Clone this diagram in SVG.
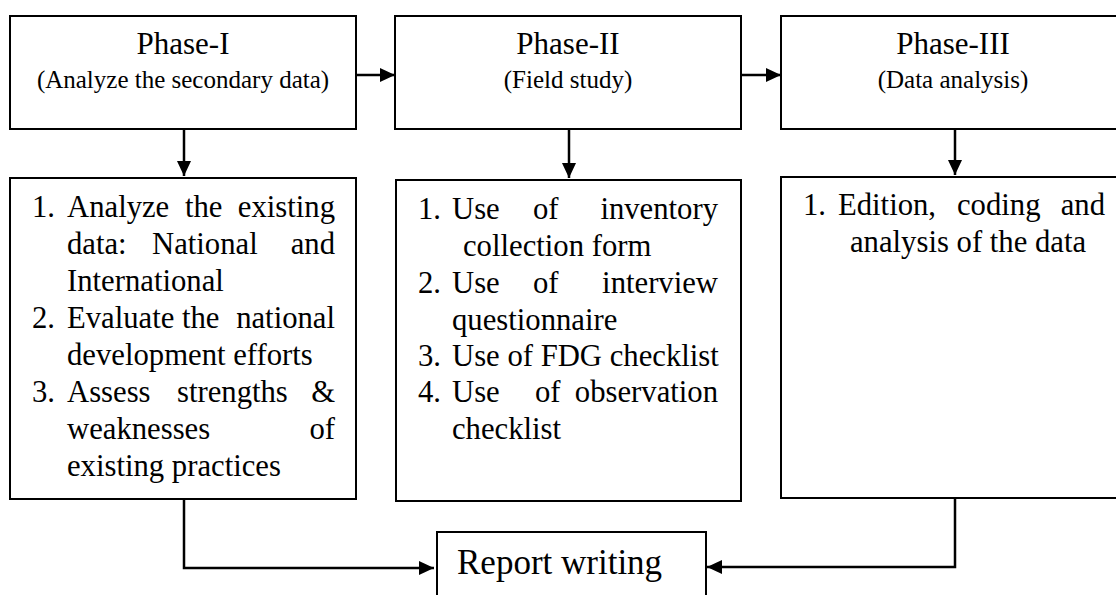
<svg xmlns="http://www.w3.org/2000/svg" width="1116" height="595" viewBox="0 0 1116 595">
  <defs>
    <marker id="arrow" viewBox="0 0 15 14" refX="15" refY="7" markerWidth="15" markerHeight="14" markerUnits="userSpaceOnUse" orient="auto">
      <path d="M0,0 L15,7 L0,14 z" fill="#000"/>
    </marker>
    <style>
      .box { fill: #fff; stroke: #000; stroke-width: 2; }
      .conn { fill: none; stroke: #000; stroke-width: 2.5; marker-end: url(#arrow); }
      text { font-family: "Liberation Serif", "Times New Roman", serif; fill: #000; }
      .title { font-size: 31px; text-anchor: middle; }
      .sub { font-size: 25px; text-anchor: middle; }
      .item { font-size: 30.7px; }
      .end { text-anchor: end; }
      .report { font-size: 35px; }
    </style>
  </defs>

  <rect width="1116" height="595" fill="#fff"/>

  <!-- connectors -->
  <g id="connectors">
    <line class="conn" x1="356" y1="75" x2="395" y2="75"/>
    <line class="conn" x1="741" y1="75" x2="781" y2="75"/>
    <line class="conn" x1="184" y1="129" x2="184" y2="176"/>
    <line class="conn" x1="569" y1="129" x2="569" y2="178"/>
    <line class="conn" x1="955" y1="129" x2="955" y2="175"/>
    <polyline class="conn" points="184,499 184,568 434,568"/>
    <polyline class="conn" points="955,498 955,567 707,567"/>
  </g>

  <!-- Phase I header -->
  <g id="phase1">
    <rect class="box" x="10" y="16" width="346" height="113"/>
    <text class="title" x="183" y="54">Phase-I</text>
    <text class="sub" x="183" y="88">(Analyze the secondary data)</text>
  </g>

  <!-- Phase II header -->
  <g id="phase2">
    <rect class="box" x="395" y="16" width="346" height="113"/>
    <text class="title" x="568" y="54">Phase-II</text>
    <text class="sub" x="568" y="88">(Field study)</text>
  </g>

  <!-- Phase III header -->
  <g id="phase3">
    <rect class="box" x="781" y="16" width="346" height="113"/>
    <text class="title" x="953" y="54">Phase-III</text>
    <text class="sub" x="953" y="88">(Data analysis)</text>
  </g>

  <!-- Phase I tasks -->
  <g id="tasks1" class="item">
    <rect class="box" x="10" y="178" width="346" height="321"/>
    <text class="item" x="32" y="217">1.</text>
    <text class="item" y="217"><tspan x="67">Analyze</tspan><tspan x="185">the</tspan></text>
    <text class="item end" x="335" y="217">existing</text>
    <text class="item" y="254"><tspan x="67">data:</tspan><tspan x="152">National</tspan></text>
    <text class="item end" x="335" y="254">and</text>
    <text class="item" x="67" y="291">International</text>
    <text class="item" x="32" y="328">2.</text>
    <text class="item" y="328"><tspan x="67">Evaluate</tspan><tspan x="182">the</tspan></text>
    <text class="item end" x="335" y="328">national</text>
    <text class="item" x="67" y="365">development efforts</text>
    <text class="item" x="32" y="402">3.</text>
    <text class="item" y="402"><tspan x="67">Assess</tspan><tspan x="177">strengths</tspan></text>
    <text class="item end" x="335" y="402">&amp;</text>
    <text class="item" x="67" y="439">weaknesses</text>
    <text class="item end" x="335" y="439">of</text>
    <text class="item" x="67" y="476">existing practices</text>
  </g>

  <!-- Phase II tasks -->
  <g id="tasks2">
    <rect class="box" x="396" y="180" width="345" height="321"/>
    <text class="item" x="418" y="219">1.</text>
    <text class="item" y="219"><tspan x="452">Use</tspan><tspan x="533">of</tspan></text>
    <text class="item end" x="718" y="219">inventory</text>
    <text class="item" x="463" y="256">collection form</text>
    <text class="item" x="418" y="293">2.</text>
    <text class="item" y="293"><tspan x="452">Use</tspan><tspan x="533">of</tspan></text>
    <text class="item end" x="718" y="293">interview</text>
    <text class="item" x="452" y="330">questionnaire</text>
    <text class="item" x="418" y="366">3.</text>
    <text class="item" x="452" y="366">Use of FDG checklist</text>
    <text class="item" x="418" y="402">4.</text>
    <text class="item" y="402"><tspan x="452">Use</tspan><tspan x="535">of</tspan></text>
    <text class="item end" x="718" y="402">observation</text>
    <text class="item" x="452" y="439">checklist</text>
  </g>

  <!-- Phase III tasks -->
  <g id="tasks3">
    <rect class="box" x="781" y="177" width="346" height="321"/>
    <text class="item" x="803" y="215">1.</text>
    <text class="item" y="215"><tspan x="838">Edition,</tspan><tspan x="957">coding</tspan></text>
    <text class="item end" x="1105" y="215">and</text>
    <text class="item" x="850" y="252">analysis of the data</text>
  </g>

  <!-- Final output -->
  <g id="report">
    <rect class="box" x="437" y="532" width="269" height="80"/>
    <text class="report" x="457" y="574">Report writing</text>
  </g>
</svg>
